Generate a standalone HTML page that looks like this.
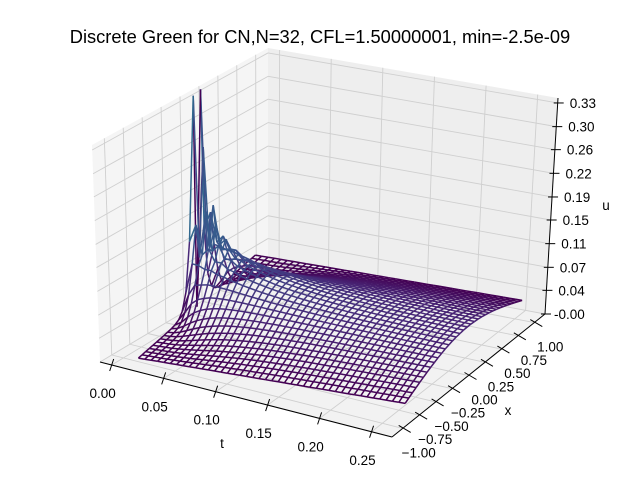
<!DOCTYPE html>
<html><head><meta charset="utf-8"><style>
body{margin:0;background:#fff}
svg{display:block;font-family:"Liberation Sans","DejaVu Sans",sans-serif}
</style></head><body>
<svg id="chart" width="640" height="480" viewBox="0 0 640 480" xmlns="http://www.w3.org/2000/svg">
<rect width="640" height="480" fill="#fff"/>
<text x="320" y="43" text-anchor="middle" font-size="18.3" fill="#000">Discrete Green for CN,N=32, CFL=1.50000001, min=-2.5e-09</text>
<g id="panes"></g>
<g id="grid"></g>
<g id="axes"></g>
<g id="surface"></g>
</svg>
<script>
// ---- data / parameters ----
const gridN = [32];
const cflValue = [1.5];
const tMax = [0.25];
const tTicks = [0.00, 0.05, 0.10, 0.15, 0.20, 0.25];
const tTickLabels = ["0.00","0.05","0.10","0.15","0.20","0.25"];
const xTicks = [-1.00,-0.75,-0.50,-0.25,0.00,0.25,0.50,0.75,1.00];
const xTickLabels = ["\u22121.00","\u22120.75","\u22120.50","\u22120.25","0.00","0.25","0.50","0.75","1.00"];
const zTicks = [0.00,0.037,0.073,0.11,0.147,0.183,0.22,0.257,0.293,0.33];
const zTickLabels = ["-0.00","0.04","0.07","0.11","0.15","0.19","0.22","0.26","0.30","0.33"];

const NS="http://www.w3.org/2000/svg";
function mk(tag, attrs, parent){const e=document.createElementNS(NS,tag);for(const k in attrs)e.setAttribute(k,attrs[k]);parent.appendChild(e);return e;}
function lerp(a,b,f){return [a[0]+(b[0]-a[0])*f,a[1]+(b[1]-a[1])*f];}

// box geometry (screen)
const FL=[100,362], BL=[268,262], BR=[545,314], FR=[392,437];
const LT=[92,145], BLT=[268,48], BRT=[558,98];
function tFrac(t){return 0.04+0.89*t/tMax[0];}
function xFrac(x){return 0.07+0.86*(x+1)/2;}
function zFrac(z){return z/0.33*0.977;}
function floorPt(ft,fx){return lerp(lerp(FL,FR,ft),lerp(BL,BR,ft),fx);}
function leftPt(fx,fz){return lerp(lerp(FL,BL,fx),lerp(LT,BLT,fx),fz);}
function backPt(ft,fz){return lerp(lerp(BL,BR,ft),lerp(BLT,BRT,ft),fz);}

const panes=document.getElementById('panes');
function poly(pts,fill,name){const p=mk('polygon',{points:pts.map(p=>p.join(',')).join(' '),fill:fill,stroke:'none'},panes);

}
poly([FL,BL,BLT,LT],'#f5f5f5','left-pane');
poly([BL,BR,BRT,BLT],'#eeeeee','back-pane');
poly([FL,FR,BR,BL],'#f2f2f2','floor-pane');

const grid=document.getElementById('grid');
function gl(a,b,name){const l=mk('line',{x1:a[0],y1:a[1],x2:b[0],y2:b[1],stroke:'#cfcfcf','stroke-width':0.9},grid);

}
tTicks.forEach(t=>{const f=tFrac(t);gl(floorPt(f,0),floorPt(f,1),'floor-grid-t');gl(backPt(f,0),backPt(f,1),'back-grid-t');});
xTicks.forEach(x=>{const f=xFrac(x);gl(floorPt(0,f),floorPt(1,f),'floor-grid-x');gl(leftPt(f,0),leftPt(f,1),'left-grid-x');});
zTicks.forEach(z=>{const f=zFrac(z);gl(leftPt(0,f),leftPt(1,f),'left-grid-z');gl(backPt(0,f),backPt(1,f),'back-grid-z');});

// axes
const axes=document.getElementById('axes');
function al(a,b,name){const l=mk('line',{x1:a[0],y1:a[1],x2:b[0],y2:b[1],stroke:'#000','stroke-width':1},axes);

}
function tx(x,y,s,anchor,name){const e=mk('text',{x:x,y:y,'font-size':13.5,'text-anchor':anchor,fill:'#000'},axes);e.textContent=s;

}
al(FL,FR,'t-axis-line');al(FR,BR,'x-axis-line');al(BR,BRT,'z-axis-line');
tTicks.forEach((t,i)=>{const p=floorPt(tFrac(t),0);al([p[0]+2,p[1]-6],[p[0]-2,p[1]+6],'t-tick');tx(p[0]-9,p[1]+33,tTickLabels[i],'middle','t-tick-label');});
xTicks.forEach((x,i)=>{const p=floorPt(1,xFrac(x));al([p[0]-4,p[1]-3],[p[0]+8,p[1]+4],'x-tick');tx(p[0]+16,p[1]+29,xTickLabels[i],'middle','x-tick-label');});
zTicks.forEach((z,i)=>{const p=backPt(1,zFrac(z));al([p[0]-4,p[1]],[p[0]+6,p[1]],'z-tick');tx(p[0]+(i==0?9:12),p[1]+5,zTickLabels[i],'start','z-tick-label');});
tx(222,448,'t','middle','t-axis-title');
tx(508,415,'x','middle','x-axis-title');
tx(606,210,'u','middle','u-axis-title');

// ---- compute Crank-Nicolson discrete Green function ----
const N=gridN[0], r=cflValue[0], dx=2/N, dt=r*dx*dx;
const nSteps=Math.round(tMax[0]/dt);
let u=new Array(N+1).fill(0); u[N/2]=1;
const rows=[];
for(let n=1;n<=nSteps;n++){
  const m=N-1, a=-r/2, b=1+r, c=-r/2;
  const d=[];for(let j=1;j<N;j++)d.push((1-r)*u[j]+r/2*(u[j-1]+u[j+1]));
  const cp=new Array(m), dp=new Array(m);
  cp[0]=c/b; dp[0]=d[0]/b;
  for(let i=1;i<m;i++){const den=b-a*cp[i-1];cp[i]=c/den;dp[i]=(d[i]-a*dp[i-1])/den;}
  const sol=new Array(m);sol[m-1]=dp[m-1];
  for(let i=m-2;i>=0;i--)sol[i]=dp[i]-cp[i]*sol[i+1];
  const nu=[0,...sol,0];u=nu;rows.push({t:n*dt,u:nu.slice()});
}
let zmin=Infinity,zmax=-Infinity;rows.forEach(R=>R.u.forEach(v=>{zmin=Math.min(zmin,v);zmax=Math.max(zmax,v);}));

// projection of surface
const S0=[132,357], Vt=[271,46], Vx=[117,-103], ZS=642;
function proj(t,x,z){return [S0[0]+t/0.25*Vt[0]+(x+1)/2*Vx[0], S0[1]+t/0.25*Vt[1]+(x+1)/2*Vx[1]-ZS*z];}
const vir=[[68,1,84],[72,40,120],[62,74,137],[49,104,142],[38,130,142],[31,158,137],[53,183,121],[109,205,89],[180,222,44],[253,231,37]];
function cmap(v){let f=(v-zmin)/(zmax-zmin);f=Math.max(0,Math.min(1,f))*9;const i=Math.min(8,Math.floor(f)),w=f-i;const a=vir[i],b=vir[i+1];
return 'rgb('+a.map((c,k)=>Math.round(c+(b[k]-c)*w)).join(',')+')';}
const segs=[];
for(let i=0;i<rows.length;i++)for(let j=0;j<=N;j++){
  const x=-1+j*dx;
  if(j<N)segs.push([rows[i].t,x,rows[i].u[j],rows[i].t,x+dx,rows[i].u[j+1]]);
  if(i<rows.length-1)segs.push([rows[i].t,x,rows[i].u[j],rows[i+1].t,x,rows[i+1].u[j]]);
}
segs.forEach(s=>{s.depth=((s[0]+s[3])/2)/0.25+(1-(s[1]+s[4])/2)/2;});
segs.sort((a,b)=>a.depth-b.depth);
const surf=document.getElementById('surface');
segs.forEach(s=>{const p=proj(s[0],s[1],s[2]),q=proj(s[3],s[4],s[5]);
  const l=mk('line',{x1:p[0].toFixed(1),y1:p[1].toFixed(1),x2:q[0].toFixed(1),y2:q[1].toFixed(1),stroke:cmap(Math.min(s[2],s[5])),'stroke-width':1.5},surf);
  
  
});
</script>
</body></html>
